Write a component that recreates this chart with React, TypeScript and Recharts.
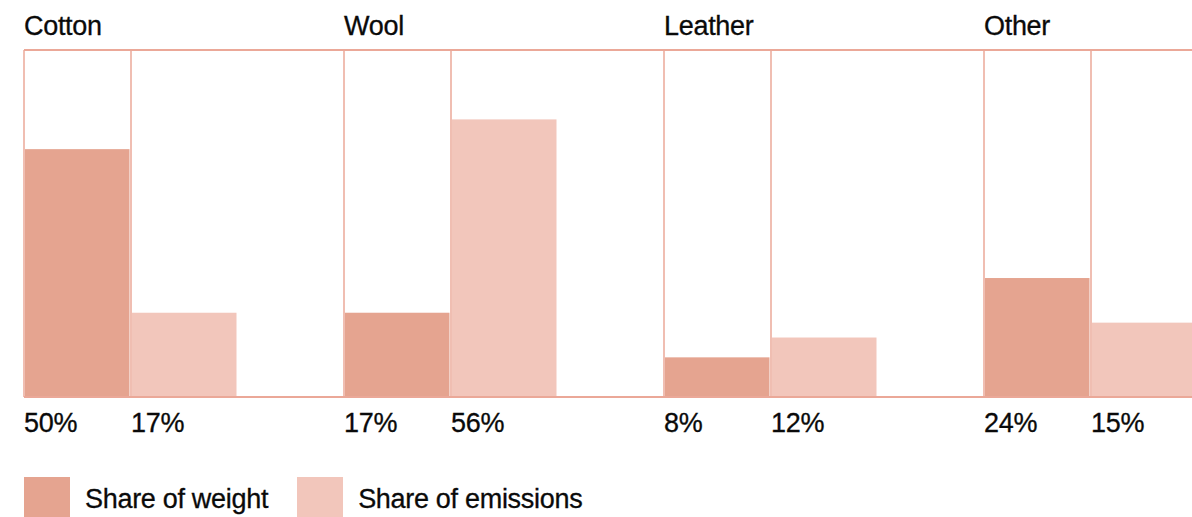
import React from "react";
import { Bar, BarChart, LabelList, Legend, ReferenceLine, XAxis, YAxis } from "recharts";

// material share of a wardrobe: weight vs. emissions (%)
const categories = ["Cotton", "Wool", "Leather", "Other"];
const weightShare = [50, 17, 8, 24];
const emissionsShare = [17, 56, 12, 15];

const data = categories.map((name, i) => ({
  name,
  weight: weightShare[i],
  emissions: emissionsShare[i],
}));

const WEIGHT = "#e5a490";
const EMISSIONS = "#f2c6bb";
const LINE_DARK = "#eba898";
const LINE_LIGHT = "#f6d3ca";
const FONT = "'Liberation Sans', Arial, sans-serif";
const TEXT = "#0a0a0a";

const slotEdge = (color: string) => (p: any) => (
  <line
    key={`edge-${color}-${p.index}`}
    x1={p.x}
    x2={p.x}
    y1={p.y}
    y2={p.y + p.height}
    stroke={color}
    strokeWidth={1.5}
  />
);

const slotBar = (p: any) => {
  if (!p.height || p.height <= 0) return <g />;
  return <rect x={p.x + 1} y={p.y} width={p.width - 2.5} height={p.height} fill={p.fill} />;
};

const ValueLabel = (p: any) => {
  const { x, y, height, value } = p;
  if (value == null) return null;
  return (
    <text
      x={x}
      y={y + height + 35}
      fill={TEXT}
      stroke={TEXT}
      strokeWidth={0.3}
      fontSize={27}
      fontFamily={FONT}
      letterSpacing={-0.3}
    >
      {`${value}%`}
    </text>
  );
};

const GroupTick = (p: any) => {
  const { x, y, payload } = p;
  const left = x - (payload.offset ?? 0);
  return (
    <text
      x={left}
      y={y - 7}
      fill={TEXT}
      stroke={TEXT}
      strokeWidth={0.3}
      fontSize={27}
      fontFamily={FONT}
      letterSpacing={-0.3}
    >
      {payload.value}
    </text>
  );
};

const legendItems = [
  { label: "Share of weight", color: WEIGHT },
  { label: "Share of emissions", color: EMISSIONS },
];

const LegendContent = () => (
  <div style={{ display: "flex", alignItems: "flex-start", fontFamily: FONT }}>
    {legendItems.map((item) => (
      <div key={item.label} style={{ display: "flex", alignItems: "flex-start", marginRight: 29 }}>
        <div style={{ width: 46, height: 46, background: item.color }} />
        <span
          style={{
            marginLeft: 15,
            marginTop: 7,
            fontSize: 27,
            color: TEXT,
            letterSpacing: -0.3,
            lineHeight: "30px",
            whiteSpace: "nowrap",
            WebkitTextStroke: `0.3px ${TEXT}`,
          }}
        >
          {item.label}
        </span>
      </div>
    ))}
  </div>
);

export default function App() {
  return (
    <div style={{ position: "absolute", left: 8, top: 8, width: 1184, height: 509, overflow: "hidden" }}>
      <BarChart
        width={1296}
        height={509}
        data={data}
        margin={{ top: 6, right: 0, left: 16, bottom: 120 }}
        barCategoryGap={0}
        barGap={0}
      >
        <XAxis
          dataKey="name"
          orientation="top"
          height={36}
          axisLine={{ stroke: LINE_DARK, strokeWidth: 2 }}
          tickLine={false}
          tick={<GroupTick />}
          interval={0}
        />
        <YAxis hide domain={[0, 70]} />
        <Bar
          dataKey="weight"
          fill={WEIGHT}
          isAnimationActive={false}
          background={slotEdge(LINE_DARK)}
          shape={slotBar}
        >
          <LabelList dataKey="weight" content={ValueLabel} />
        </Bar>
        <Bar
          dataKey="emissions"
          fill={EMISSIONS}
          isAnimationActive={false}
          background={slotEdge(LINE_DARK)}
          shape={slotBar}
        >
          <LabelList dataKey="emissions" content={ValueLabel} />
        </Bar>
        <Bar
          dataKey="blank"
          fill="none"
          legendType="none"
          isAnimationActive={false}
          background={slotEdge(LINE_LIGHT)}
          shape={slotBar}
        />
        <ReferenceLine y={0} stroke={LINE_DARK} strokeWidth={2} />
        <Legend
          verticalAlign="middle"
          align="center"
          content={<LegendContent />}
          wrapperStyle={{ left: 16, top: 469, width: "auto", height: 46 }}
        />
      </BarChart>
    </div>
  );
}
